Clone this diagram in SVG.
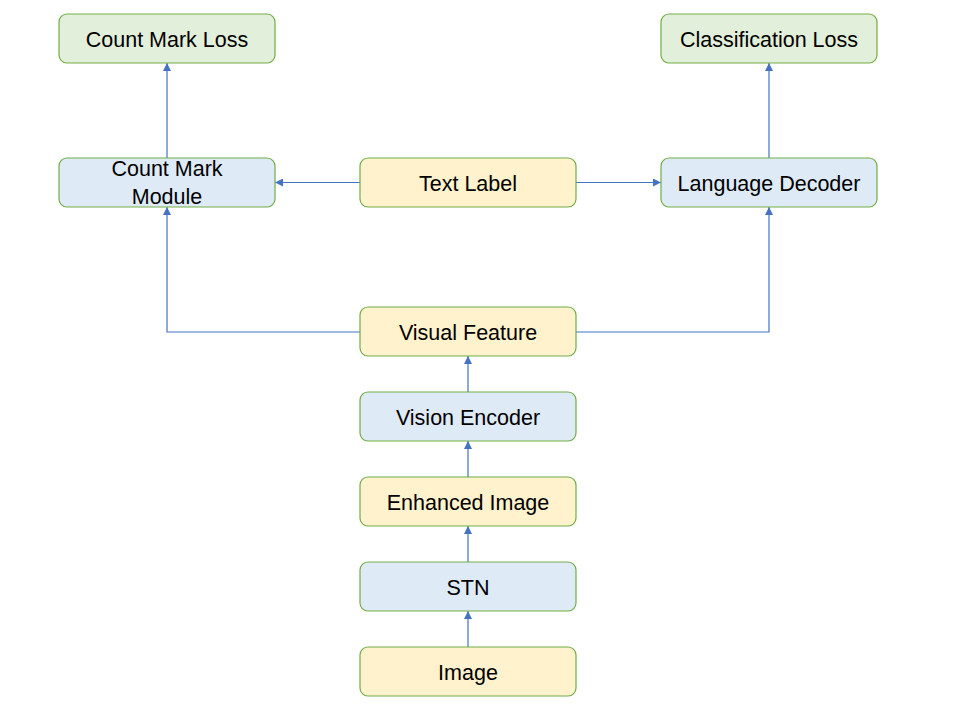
<svg xmlns="http://www.w3.org/2000/svg" width="966" height="707" viewBox="0 0 966 707">
<style>
.box{stroke:#70AD47;stroke-width:1.2}
.g{fill:#E2EFDA}
.b{fill:#DEEBF7}
.y{fill:#FFF2CC}
text{font-family:"Liberation Sans",Arial,sans-serif;font-size:21.5px;fill:#000;text-anchor:middle}
.c{fill:none;stroke:#4472C4;stroke-width:1.2}
</style>
<defs>
<marker id="ah" viewBox="0 0 10 10" refX="10" refY="5" markerWidth="8" markerHeight="8" markerUnits="userSpaceOnUse" orient="auto">
<path d="M0,0 L10,5 L0,10 z" fill="#4472C4"/>
</marker>
</defs>
<rect width="966" height="707" fill="#fff"/>
<g id="connectors">
<path class="c" d="M167,158 V63" marker-end="url(#ah)"/>
<path class="c" d="M360,182.5 H275" marker-end="url(#ah)"/>
<path class="c" d="M576,182.5 H661" marker-end="url(#ah)"/>
<path class="c" d="M769,158 V63" marker-end="url(#ah)"/>
<path class="c" d="M360,332 H167 V207" marker-end="url(#ah)"/>
<path class="c" d="M576,332 H769 V207" marker-end="url(#ah)"/>
<path class="c" d="M468,392 V356" marker-end="url(#ah)"/>
<path class="c" d="M468,477 V441" marker-end="url(#ah)"/>
<path class="c" d="M468,562 V526" marker-end="url(#ah)"/>
<path class="c" d="M468,647 V611" marker-end="url(#ah)"/>
</g>
<g id="count-mark-loss"><rect class="box g" x="59" y="14" width="216" height="49" rx="8"/><text x="167" y="46.5">Count Mark Loss</text></g>
<g id="classification-loss"><rect class="box g" x="661" y="14" width="216" height="49" rx="8"/><text x="769" y="46.5">Classification Loss</text></g>
<g id="count-mark-module"><rect class="box b" x="59" y="158" width="216" height="49" rx="8"/><text x="167" y="176">Count Mark</text><text x="167" y="204">Module</text></g>
<g id="text-label"><rect class="box y" x="360" y="158" width="216" height="49" rx="8"/><text x="468" y="190.5">Text Label</text></g>
<g id="language-decoder"><rect class="box b" x="661" y="158" width="216" height="49" rx="8"/><text x="769" y="190.5">Language Decoder</text></g>
<g id="visual-feature"><rect class="box y" x="360" y="307" width="216" height="49" rx="8"/><text x="468" y="339.5">Visual Feature</text></g>
<g id="vision-encoder"><rect class="box b" x="360" y="392" width="216" height="49" rx="8"/><text x="468" y="424.5">Vision Encoder</text></g>
<g id="enhanced-image"><rect class="box y" x="360" y="477" width="216" height="49" rx="8"/><text x="468" y="509.5">Enhanced Image</text></g>
<g id="stn"><rect class="box b" x="360" y="562" width="216" height="49" rx="8"/><text x="468" y="594.5">STN</text></g>
<g id="image"><rect class="box y" x="360" y="647" width="216" height="49" rx="8"/><text x="468" y="679.5">Image</text></g>
</svg>
